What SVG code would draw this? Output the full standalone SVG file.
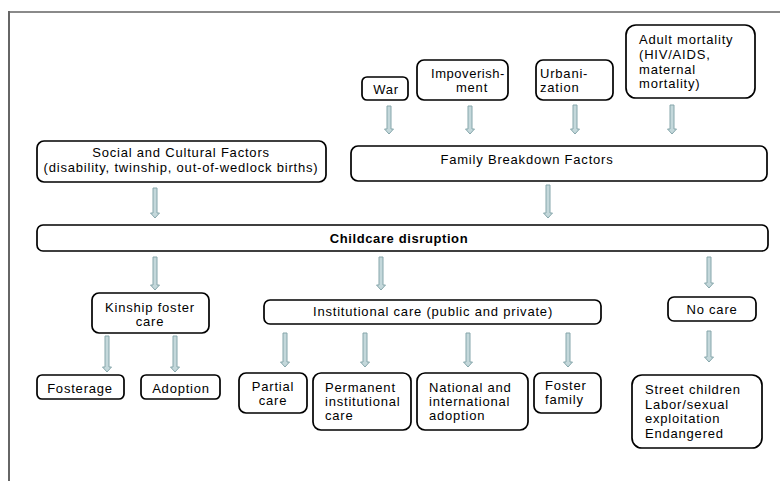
<svg xmlns="http://www.w3.org/2000/svg" width="780" height="481" viewBox="0 0 780 481">
<style>
.box{fill:#fff;stroke:#000;stroke-width:1.7}
.t{font-family:"Liberation Sans",Arial,sans-serif;font-size:13px;fill:#000;letter-spacing:0.8px}
.c{text-anchor:middle}
.b{font-weight:bold;letter-spacing:0.6px}
.arr{fill:#c4d8db;stroke:#86a6ab;stroke-width:1}
</style>
<rect width="780" height="481" fill="#fff"/>
<g id="frame">
<line x1="9" y1="12" x2="780" y2="12" stroke="#8a8a8a" stroke-width="2"/>
<line x1="9" y1="11" x2="9" y2="481" stroke="#666" stroke-width="2"/>
</g>
<g id="connectors">
<path class="arr" d="M387,106H391V129H393.5L389,134L384.5,129H387Z"/>
<path class="arr" d="M468,106H472V129H474.5L470,134L465.5,129H468Z"/>
<path class="arr" d="M573,105H577V129H579.5L575,134L570.5,129H573Z"/>
<path class="arr" d="M670,105H674V129H676.5L672,134L667.5,129H670Z"/>
<path class="arr" d="M153,188H157V213H159.5L155,218L150.5,213H153Z"/>
<path class="arr" d="M546,185H550V213H552.5L548,218L543.5,213H546Z"/>
<path class="arr" d="M153,257H157V285H159.5L155,290L150.5,285H153Z"/>
<path class="arr" d="M379,257H383V285H385.5L381,290L376.5,285H379Z"/>
<path class="arr" d="M707,257H711V283H713.5L709,288L704.5,283H707Z"/>
<path class="arr" d="M105,336H109V367H111.5L107,372L102.5,367H105Z"/>
<path class="arr" d="M173,336H177V367H179.5L175,372L170.5,367H173Z"/>
<path class="arr" d="M283,333H287V362H289.5L285,367L280.5,362H283Z"/>
<path class="arr" d="M363,333H367V362H369.5L365,367L360.5,362H363Z"/>
<path class="arr" d="M466,333H470V362H472.5L468,367L463.5,362H466Z"/>
<path class="arr" d="M566,333H570V362H572.5L568,367L563.5,362H566Z"/>
<path class="arr" d="M707,331H711V357H713.5L709,362L704.5,357H707Z"/>
</g>
<g id="war"><rect class="box" x="362" y="77" width="46" height="23" rx="5"/><text class="t c" x="386" y="94">War</text></g>
<g id="impoverishment"><rect class="box" x="417" y="60" width="91" height="40" rx="7"/><text class="t" x="431" y="78" style="letter-spacing:0.55px">Impoverish-</text><text class="t c" x="472" y="92">ment</text></g>
<g id="urbanization"><rect class="box" x="536" y="60" width="77" height="40" rx="7"/><text class="t" x="540" y="78">Urbani-</text><text class="t" x="540" y="92">zation</text></g>
<g id="adult-mortality"><rect class="box" x="626" y="25" width="129" height="73" rx="10"/><text class="t" x="639" y="44">Adult mortality</text><text class="t" x="639" y="59">(HIV/AIDS,</text><text class="t" x="639" y="74">maternal</text><text class="t" x="639" y="88">mortality)</text></g>
<g id="social"><rect class="box" x="37" y="141" width="289" height="41" rx="7"/><text class="t c" x="181" y="157">Social and Cultural Factors</text><text class="t c" x="181" y="172">(disability, twinship, out-of-wedlock births)</text></g>
<g id="family-breakdown"><rect class="box" x="351" y="146" width="416" height="35" rx="7"/><text class="t c" x="527" y="164">Family Breakdown Factors</text></g>
<g id="childcare"><rect class="box" x="37" y="225" width="731" height="26" rx="6"/><text class="t c b" x="399" y="243">Childcare disruption</text></g>
<g id="kinship"><rect class="box" x="92" y="293" width="117" height="40" rx="7"/><text class="t c" x="150" y="312">Kinship foster</text><text class="t c" x="150" y="326">care</text></g>
<g id="institutional"><rect class="box" x="264" y="300" width="337" height="24" rx="6"/><text class="t c" x="433" y="316">Institutional care (public and private)</text></g>
<g id="no-care"><rect class="box" x="668" y="297" width="88" height="24" rx="6"/><text class="t c" x="712" y="314">No care</text></g>
<g id="fosterage"><rect class="box" x="37" y="375" width="87" height="24" rx="5"/><text class="t c" x="80" y="393">Fosterage</text></g>
<g id="adoption"><rect class="box" x="141" y="375" width="79" height="24" rx="5"/><text class="t c" x="181" y="393">Adoption</text></g>
<g id="partial"><rect class="box" x="239" y="373" width="68" height="40" rx="7"/><text class="t c" x="273" y="391">Partial</text><text class="t c" x="273" y="405">care</text></g>
<g id="permanent"><rect class="box" x="313" y="373" width="98" height="57" rx="8"/><text class="t" x="325" y="392">Permanent</text><text class="t" x="325" y="406">institutional</text><text class="t" x="325" y="420">care</text></g>
<g id="national"><rect class="box" x="417" y="373" width="111" height="57" rx="8"/><text class="t" x="429" y="392">National and</text><text class="t" x="429" y="406">international</text><text class="t" x="429" y="420">adoption</text></g>
<g id="foster-family"><rect class="box" x="534" y="373" width="67" height="40" rx="7"/><text class="t" x="545" y="390">Foster</text><text class="t" x="545" y="404">family</text></g>
<g id="street"><rect class="box" x="632" y="375" width="130" height="73" rx="10"/><text class="t" x="645" y="394">Street children</text><text class="t" x="645" y="409">Labor/sexual</text><text class="t" x="645" y="423">exploitation</text><text class="t" x="645" y="438">Endangered</text></g>
</svg>
